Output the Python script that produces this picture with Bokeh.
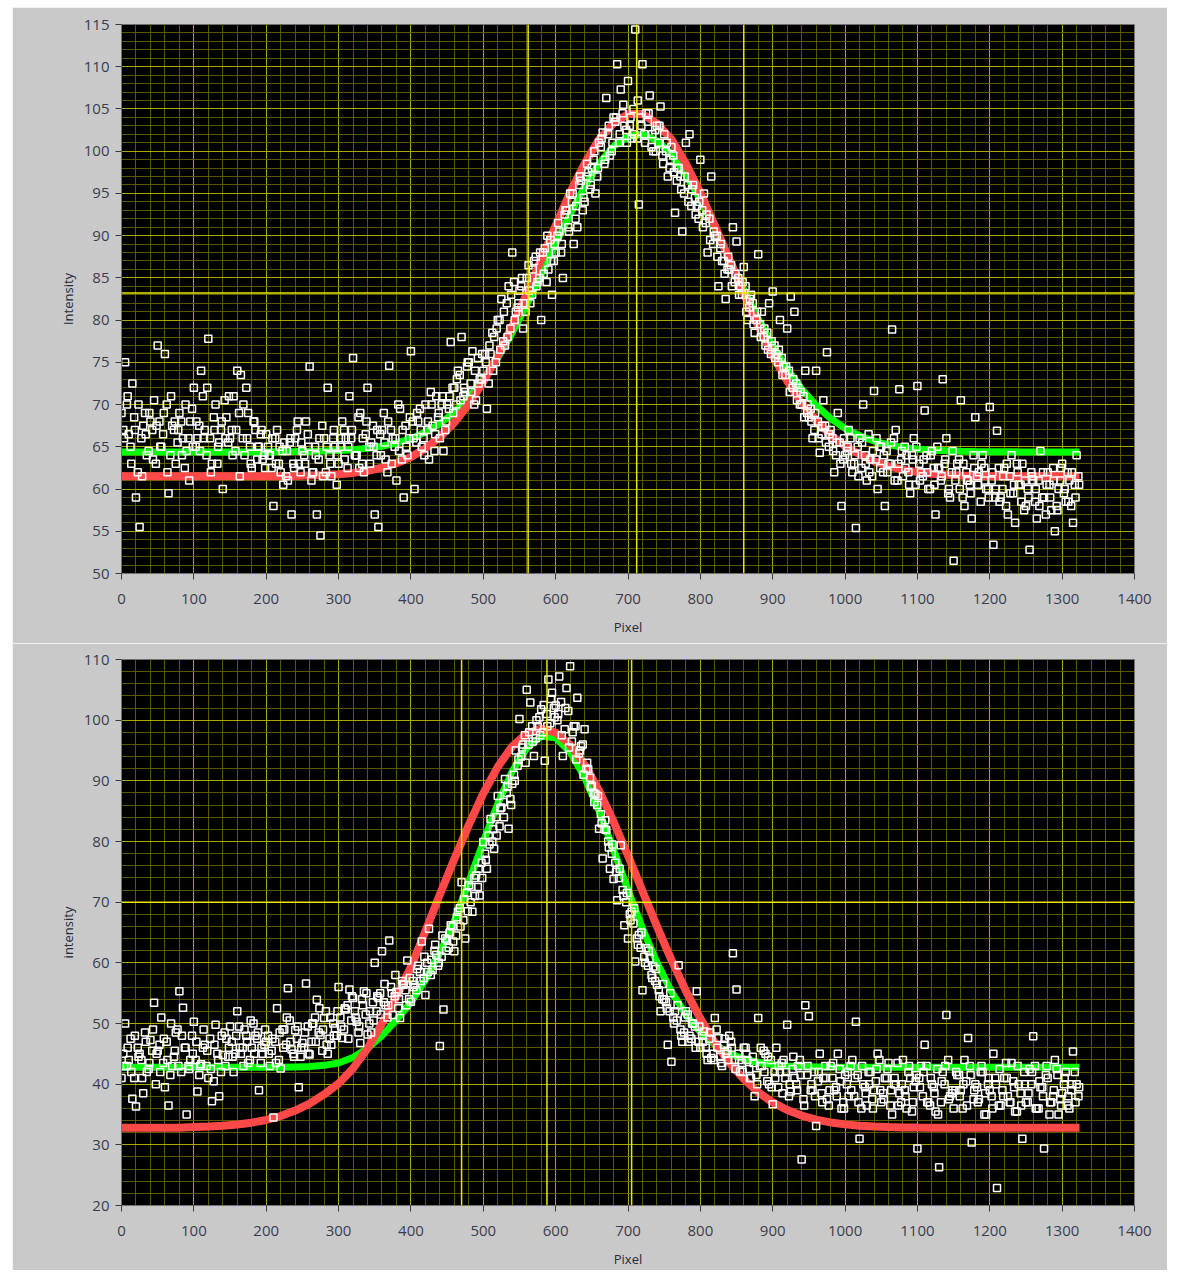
from bokeh.plotting import figure
from bokeh.models import Range1d, SingleIntervalTicker, Span, Spacer
from bokeh.layouts import column, row
from bokeh.embed import file_html
from bokeh.resources import INLINE

# ---------------- data: top panel ----------------
top_scatter_y = [
    69, 75, 66.5, 72.5, 59, 55.5, 67.5, 64, 68, 70.5,
    77, 65, 76, 59.5, 67.5, 63, 69, 66, 64.5, 68,
    72, 66, 74, 67, 77.8, 63, 70, 65.5, 60, 68.5,
    66, 71, 74, 73.5, 64, 69, 62.5, 67, 65, 63.5,
    66.5, 64, 58, 67, 62, 65.5, 61, 57, 66, 63,
    64.5, 68, 74.5, 62, 57, 54.5, 66, 72, 61.5, 65,
    63, 68, 66, 71, 75.5, 64, 69, 62, 72, 65.5,
    57, 55.5, 67, 63.5, 74.6, 66, 61, 69.5, 59, 64,
    76.3, 60, 68, 65, 70, 63.5, 67.5, 71, 66, 64.5,
    70, 77.4, 72, 74, 78, 71.5, 75, 76.3, 70.5, 73,
    74, 69.5, 76, 78, 80, 82.5, 77, 84, 88, 81,
    83.5, 79, 85, 82, 87, 84.5, 80, 88.5, 86, 83,
    88, 90.5, 85, 93, 95, 89, 91, 96.5, 94, 97.5,
    98, 95, 101, 102.2, 106.3, 99.5, 104, 110.3, 107.3, 103,
    108.3, 101.5, 114.4, 93.7, 110.3, 104.5, 106.6, 100, 103, 105.3,
    102, 97, 100.5, 92.7, 98, 90.5, 101, 102, 96, 93.5,
    99, 95, 88, 97, 90, 84, 87, 82.5, 86, 91,
    89.3, 84, 86.3, 80, 83, 78.5, 87.8, 81, 77, 82,
    83.4, 76, 80, 74.5, 79, 82.8, 81, 72, 70, 74,
    68.5, 66, 74, 64.3, 70.5, 76.2, 67, 62, 69, 58,
    64, 67, 62, 55.4, 66, 70, 61, 63.5, 71.6, 60,
    65, 58, 63, 78.9, 67, 71.8, 61.5, 64, 59.5, 66,
    72.2, 62, 69.3, 60, 64.5, 57, 62.5, 73, 66, 59,
    51.5, 63, 70.5, 58, 61, 56.5, 68.5, 62, 64, 60,
    69.7, 53.4, 66.9, 59, 62.5, 57, 64, 56, 60.5, 63,
    58, 52.8, 61, 56.5, 64.5, 59, 62, 57.5, 55, 60,
    63, 58.5, 61, 56, 64,
]
top_scatter_x = [5 * i for i in range(len(top_scatter_y))]

top_scatter2_y = [
    67, 70, 65, 68.5, 62, 66, 69, 64.5, 67, 63,
    68, 66.5, 70, 64, 67, 65.5, 68, 62.5, 66, 69.5,
    65, 67.5, 71, 64, 66, 68.5, 63, 67, 70.5, 65.5,
    67, 64.5, 69, 66, 72, 65, 68, 63.5, 66.5, 64,
    65, 62.5, 66, 63, 64.5, 61.5, 65.5, 63, 67, 62,
    64, 66.5, 61, 65, 63.5, 67.5, 62, 64, 66, 60.5,
    65, 67, 62.5, 66, 64, 68.5, 63, 66.5, 65, 67.5,
    64, 66.5, 69, 62, 67, 65, 70, 63.5, 67.5, 66,
    68, 65.5, 69.5, 66, 67, 71.5, 64.5, 68.5, 70, 67,
    69.5, 72, 70, 73.5, 71, 74.5, 72.5, 70, 75.5, 73,
    76, 72.5, 78.5, 75, 80, 77.5, 82, 79, 84.5, 81.5,
    84, 82, 86.5, 83, 87.5, 85, 88, 84.5, 89.5, 87,
    90, 88, 92.5, 91, 94, 92, 96, 93, 97, 95.5,
    99, 97, 100.5, 98.5, 102, 100, 103.5, 101, 104.5, 102.5,
    103, 105, 101.5, 104, 102, 103.5, 100.5, 102.5, 101, 99.5,
    100, 98, 99.5, 96.5, 97, 95, 96, 93.5, 94.5, 92,
    93, 91.5, 92, 89, 90, 88.5, 87, 86, 86.5, 84.5,
    85, 83, 84, 81.5, 82, 80, 79.5, 78, 78.5, 76,
    77, 75, 75.5, 73.5, 74, 72, 72.5, 70, 71, 69,
    69.5, 67, 68, 66.5, 67.5, 65, 66, 64, 65.5, 63.5,
    64.5, 66, 63, 65, 62.5, 64, 66.5, 61.5, 63.5, 65,
    62, 64.5, 63, 66, 61, 63.5, 65, 62, 64, 60.5,
    63, 61.5, 64, 60, 62.5, 65, 61, 63, 59.5, 62,
    61, 63.5, 59, 62, 60.5, 64, 61.5, 58.5, 62.5, 60,
    61, 59, 62.5, 60, 58, 61.5, 59.5, 63, 60.5, 57.5,
    60, 62, 58.5, 61, 59, 57, 60.5, 62.5, 58, 61,
    59.5, 62, 58, 60.5, 61.5,
]
top_scatter2_x = [2.5 + 5 * i for i in range(len(top_scatter2_y))]

top_scatter3_y = [
    66, 71, 63, 67, 70, 61.5, 66.5, 69, 63.5, 67.5,
    65, 69, 62, 71, 68, 67, 64, 70, 61, 65,
    68, 64.5, 66, 72, 62, 67, 65, 68, 66, 71,
    64, 67, 61.5, 70, 66, 63, 68, 65, 67, 62.5,
    64, 66, 63, 65, 60.5, 64.5, 66, 62.5, 68, 65.5,
    63, 65, 62, 64, 66, 61.5, 65, 63, 67, 64,
    66, 63.5, 65, 67, 64, 62.5, 66, 68, 63, 65,
    67, 64, 65.5, 68, 63, 66, 64.5, 67, 65, 68.5,
    66, 69, 67, 64, 68, 70, 66.5, 69, 71, 68,
    71, 69, 73, 70.5, 72, 75, 71.5, 74, 72.5, 76,
    75, 77, 74, 79, 76.5, 81, 78, 83, 80, 82,
    85, 81, 83.5, 86, 84, 88, 85.5, 90, 87, 89,
    91.5, 89, 93, 90.5, 95, 93.5, 97, 94.5, 98.5, 96,
    100, 98, 101.5, 99, 103, 101, 104, 102, 105.5, 101,
    104, 102, 106, 103, 101, 104.5, 102, 100, 103, 98.5,
    101, 99, 97.5, 98, 95.5, 97, 94, 95.5, 92.5, 94,
    91, 92.5, 89.5, 90.5, 87.5, 89, 85.5, 87.5, 84, 85.5,
    83, 84.5, 81, 82.5, 79.5, 81, 78, 79, 76.5, 77.5,
    75.5, 76.5, 73.5, 74.5, 71.5, 73, 70.5, 71.5, 68.5, 70,
    68, 69, 66, 67.5, 65.5, 66.5, 64.5, 65.5, 63, 66,
    65, 63, 64, 61.5, 65.5, 63, 62, 64.5, 66, 62.5,
    64, 62, 65.5, 61, 63, 64.5, 62.5, 60.5, 63.5, 65,
    61, 63.5, 62, 64, 60.5, 62.5, 61.5, 63.5, 60, 64.5,
    62, 60, 63, 61, 59.5, 62.5, 60.5, 63, 61, 59,
    62, 60, 58.5, 61.5, 63, 59.5, 60.5, 62, 58.5, 61,
    59, 61.5, 60, 58, 62, 60.5, 59, 61, 57.5, 62.5,
    60, 58.5, 62, 59, 60.5,
]
top_scatter3_x = [3.5 + 5 * i for i in range(len(top_scatter3_y))]

fit_x = list(range(0, 1321, 20)) + [1324]

top_red = [
    61.5, 61.5, 61.5, 61.5, 61.5, 61.5, 61.5, 61.5, 61.5, 61.5,
    61.5, 61.52, 61.55, 61.6, 61.65, 61.75, 61.91, 62.16, 62.52, 63.05,
    63.79, 64.8, 66.14, 67.89, 70.06, 72.7, 75.8, 79.3, 83.1, 87.2,
    91.2, 95.1, 98.5, 101.4, 103.3, 104.4, 104.4, 103.3, 101.4, 98.5,
    95.1, 91.2, 87.2, 83.1, 79.3, 75.8, 72.8, 70.2, 68.1, 66.4,
    65.1, 64.1, 63.3, 62.7, 62.3, 62.0, 61.8, 61.7, 61.6, 61.55,
    61.5, 61.5, 61.5, 61.5, 61.5, 61.5, 61.5, 61.5,
]
top_green = [
    64.4, 64.4, 64.4, 64.4, 64.4, 64.4, 64.4, 64.4, 64.4, 64.4,
    64.4, 64.42, 64.43, 64.45, 64.49, 64.55, 64.66, 64.82, 65.07, 65.44,
    65.97, 66.72, 67.74, 69.09, 70.82, 72.97, 75.54, 78.51, 81.83, 85.38,
    89.03, 92.56, 95.8, 98.54, 100.56, 101.73, 102.0, 101.25, 99.63, 97.24,
    94.24, 90.82, 87.2, 83.59, 80.14, 76.98, 74.2, 71.84, 69.91, 68.37,
    67.19, 66.32, 65.68, 65.23, 64.93, 64.73, 64.6, 64.52, 64.47, 64.44,
    64.42, 64.41, 64.4, 64.4, 64.4, 64.4, 64.4, 64.4,
]
top_cursor_x = [562, 712, 860]
top_cursor_y = [83.2]

# ---------------- data: bottom panel ----------------
bot_scatter_y = [
    41, 50, 44, 37.6, 36.3, 45, 38.5, 42, 47.3, 53.4,
    45.5, 51, 39.5, 36.5, 43, 48.5, 55.3, 52.6, 35, 44,
    50.3, 38.8, 43.3, 46.5, 41, 37.2, 49.8, 38, 44.8, 47.5,
    49.5, 42, 52, 45, 49, 43.5, 46, 48, 39, 45,
    47, 43, 34.5, 52.5, 42.6, 49, 55.8, 45.7, 48.9, 39.5,
    46.8, 56.6, 44.9, 50, 53.9, 48.1, 50.9, 45, 46.5, 49.2,
    56, 47.6, 52.3, 55.6, 54.2, 50.3, 46.8, 55.3, 48.2, 48.5,
    60, 54.2, 61.9, 53, 63.7, 51.4, 55.2, 50.9, 56.4, 60.4,
    53.6, 56.4, 59.5, 63.5, 54.7, 65.6, 58.8, 61.3, 46.3, 52.3,
    63.7, 66.2, 61.9, 68.4, 73.3, 64, 72.8, 68.4, 74.4, 71.1,
    79.9, 75.5, 83.7, 78.8, 87.5, 85.6, 90.3, 82.1, 89.5, 95,
    100.2, 96, 105, 102.9, 94.1, 99, 101.8, 93.3, 106.7, 104.5,
    102.4, 107.2, 94.1, 105.3, 108.9, 99, 103.7, 95.7, 98.5, 91.9,
    89.2, 87.8, 82.1, 77.2, 81.9, 75.5, 73.8, 70.3, 79.4, 66.2,
    64, 68.4, 60.2, 64.6, 55.5, 62.4, 60.7, 59.4, 56.4, 52,
    54, 46.5, 43.7, 52, 59.6, 47, 52, 48, 50, 55.3,
    46, 48.7, 44, 44.3, 50.9, 47.6, 43, 45, 48, 61.6,
    55.6, 42.1, 46, 44, 41, 38, 50.9, 43, 45, 40,
    36.7, 46, 42, 44, 49.8, 38.8, 41, 43, 27.6, 53,
    51.2, 39, 33.1, 45, 41, 37.5, 43, 39, 45, 36,
    41.5, 38, 44, 50.3, 31, 40, 36.5, 42, 39, 45,
    37, 41, 43.5, 35, 40, 38.5, 44, 36, 41, 39.5,
    29.4, 43, 46.5, 37, 40, 35.5, 26.3, 42, 51.4, 38,
    36, 41.5, 39, 44, 47.6, 30.4, 40, 37.5, 42, 35,
    39, 45, 22.9, 36.5, 41, 38, 43.5, 35.5, 40, 31,
    37, 42.5, 47.9, 36, 39.5, 29.4, 41, 37, 44, 35,
    38.5, 42, 36, 45.4, 40,
]
bot_scatter_x = [5 * i for i in range(len(bot_scatter_y))]

bot_scatter2_y = [
    45, 43, 47.5, 41, 46, 44, 48.5, 42.5, 45.5, 40,
    46.5, 43.5, 47, 41.5, 44.5, 49, 42, 46, 43, 48,
    44, 41.5, 46, 43, 47.5, 40.5, 45, 42, 48.5, 44.5,
    47, 45, 49.5, 46, 48, 44, 50, 47.5, 43.5, 46.5,
    48, 45.5, 47, 44, 49, 46.5, 50.5, 45, 47.5, 44.5,
    46, 49.5, 47, 51, 48.5, 45.5, 52, 47.5, 50, 48,
    51, 49, 53, 50.5, 52, 48.5, 54, 51.5, 50, 53.5,
    52, 55, 53.5, 51, 56, 54.5, 52.5, 57, 55.5, 54,
    57, 55.5, 58.5, 57.5, 60, 58, 62, 59.5, 61, 64,
    62.5, 66, 64.5, 69, 67, 71.5, 70, 74, 72.5, 76.5,
    78, 81, 80, 84, 82.5, 86.5, 88, 87, 91, 92.5,
    94, 97.5, 96, 99, 97, 100.5, 98, 101, 99.5, 102,
    100, 103, 98.5, 101.5, 96.5, 99, 94.5, 96, 92, 90.5,
    88, 86, 84.5, 82, 80, 78, 76.5, 74, 72, 70,
    68, 66.5, 64, 62.5, 61, 59.5, 58, 57, 55.5, 54,
    53.5, 52, 51, 50.5, 49, 48.5, 51.5, 47.5, 49.5, 47,
    48, 46, 47.5, 45, 49, 44.5, 46.5, 45.5, 47, 44,
    45, 43.5, 46, 42.5, 44.5, 41.5, 43, 45.5, 40.5, 44,
    42, 39.5, 43.5, 41, 38, 42.5, 40, 44, 37.5, 41.5,
    39, 42, 40.5, 38.5, 43, 36.5, 41, 39.5, 42.5, 37,
    40, 43, 38, 41.5, 36, 39.5, 42, 37.5, 40.5, 44,
    38.5, 41, 36.5, 40, 43.5, 37, 39, 42, 35.5, 40.5,
    41, 38, 43, 36.5, 39.5, 42.5, 37, 40, 44, 38.5,
    39, 41.5, 36, 40.5, 43, 37.5, 39.5, 42, 35, 40,
    38, 41, 36.5, 39, 43.5, 37, 40.5, 35.5, 38.5, 42,
    37, 40, 43, 36, 39.5, 41.5, 35, 38, 42.5, 37.5,
    40, 36.5, 39, 42, 38,
]
bot_scatter2_x = [2.5 + 5 * i for i in range(len(bot_scatter2_y))]

bot_scatter3_y = [
    43, 46, 42, 48, 44.5, 41, 47, 43.5, 49, 45,
    42, 47.5, 44, 50, 45.5, 43, 48, 46, 42.5, 45,
    47, 43, 49, 45.5, 42.5, 46.5, 44, 48, 43, 46,
    44.5, 48, 46, 43, 47, 50.5, 45, 48.5, 46, 49,
    45, 47.5, 43.5, 48.5, 46, 51, 47, 44.5, 49.5, 46,
    48.5, 45, 50, 47, 52.5, 49, 46.5, 51, 48, 52,
    49.5, 52.5, 47.5, 54.5, 51, 49.5, 53, 55, 52, 50.5,
    54.5, 51.5, 56.5, 53, 55, 58, 54, 56.5, 53, 57.5,
    56, 59, 57, 61, 58.5, 60.5, 63, 60, 64.5, 62,
    65, 63.5, 67.5, 66, 70.5, 68.5, 72.5, 71, 75.5, 74,
    77, 79.5, 82, 81, 85.5, 84, 89, 86, 90, 93.5,
    95.5, 93, 98, 96.5, 100, 97.5, 102.5, 99, 103.5, 100.5,
    101, 97.5, 102, 95.5, 98, 93.5, 95, 91, 93, 89,
    86.5, 87.5, 83, 83.5, 79, 79.5, 75, 75.5, 71, 71.5,
    67, 69, 63, 65, 60, 62, 57.5, 59, 54.5, 56.5,
    52.5, 55, 50, 53, 48, 51, 47, 50, 46, 49.5,
    47, 45, 48.5, 44, 46, 43.5, 47.5, 44, 46, 42.5,
    44, 42, 45, 41, 43.5, 40, 46, 42, 44.5, 39.5,
    41, 43, 38.5, 42, 40, 44.5, 39, 41.5, 36.5, 43,
    40, 38, 42, 37, 41, 39, 43.5, 38, 40.5, 36,
    42, 39, 41, 37, 43, 38.5, 40, 36, 42.5, 39,
    37.5, 42.5, 39, 41, 36.5, 40, 38, 43, 37, 41.5,
    39.5, 42, 37, 41, 38.5, 35, 40.5, 43, 37.5, 39,
    42, 38, 40, 36.5, 41.5, 39, 37, 43, 38.5, 41,
    36, 40, 42.5, 38, 41, 37, 39.5, 43, 36.5, 40,
    38.5, 42, 36, 40.5, 38, 43, 37, 39, 41.5, 36.5,
    41, 38, 40, 37, 39.5,
]
bot_scatter3_x = [3.5 + 5 * i for i in range(len(bot_scatter3_y))]

bot_red = [
    32.8, 32.8, 32.8, 32.8, 32.8, 32.93, 33.01, 33.14, 33.35, 33.65,
    34.1, 34.74, 35.64, 36.8, 38.3, 40.1, 42.6, 45.9, 50.0, 54.4,
    59.3, 65.2, 71.25, 77.1, 82.74, 87.91, 92.3, 95.68, 97.81, 98.6,
    97.96, 95.95, 92.69, 88.39, 83.29, 77.68, 71.83, 66.02, 60.48, 55.37,
    50.8, 46.85, 43.54, 40.83, 38.67, 37.0, 35.75, 34.82, 34.16, 33.69,
    33.37, 33.16, 33.02, 32.93, 32.87, 32.84, 32.82, 32.81, 32.8, 32.8,
    32.8, 32.8, 32.8, 32.8, 32.8, 32.8, 32.8, 32.8,
]
bot_green = [
    42.8, 42.8, 42.8, 42.8, 42.8, 42.8, 42.8, 42.8, 42.8, 42.8,
    42.8, 42.8, 42.85, 42.9, 43.1, 43.5, 44.4, 45.9, 48.0, 50.6,
    53.5, 57.2, 61.6, 66.9, 73.33, 79.94, 86.22, 91.55, 95.4, 97.33,
    97.11, 94.77, 90.58, 85.01, 78.63, 72.02, 65.69, 60.03, 55.26, 51.46,
    48.58, 46.51, 45.09, 44.15, 43.57, 43.22, 43.0, 42.9, 42.85, 42.82,
    42.8, 42.8, 42.8, 42.8, 42.8, 42.8, 42.8, 42.8, 42.8, 42.8,
    42.8, 42.8, 42.8, 42.8, 42.8, 42.8, 42.8, 42.8,
]
bot_cursor_x = [470, 588, 705]
bot_cursor_y = [70]

FONT = "Open Sans"


def make_panel(height, border_top, border_bottom, y0, y1, y_step, ylabel,
               scatter_sets, red, green, cx, cy):
    p = figure(width=1155, height=height,
               x_range=Range1d(0, 1400), y_range=Range1d(y0, y1),
               output_backend="svg", toolbar_location=None,
               min_border_left=109, min_border_right=33,
               min_border_top=border_top, min_border_bottom=border_bottom)
    p.background_fill_color = "black"
    p.border_fill_color = "#c9c9c9"
    p.outline_line_color = "#707070"

    xt = SingleIntervalTicker(interval=100, num_minor_ticks=5)
    yt = SingleIntervalTicker(interval=y_step, num_minor_ticks=5)
    p.xaxis.ticker = xt
    p.yaxis.ticker = yt
    p.xgrid.ticker = xt
    p.ygrid.ticker = yt
    for g in (p.xgrid, p.ygrid):
        g.grid_line_color = "#a8a800"
        g.grid_line_width = 1
        g.minor_grid_line_color = "#5a5a00"
        g.minor_grid_line_width = 1

    for ax in (p.xaxis, p.yaxis):
        ax.axis_line_color = "#707070"
        ax.major_tick_in = 0
        ax.major_tick_out = 6
        ax.major_tick_line_color = "#3a3a3a"
        ax.minor_tick_line_color = None
        ax.major_label_text_font = FONT
        ax.major_label_text_font_size = "15px"
        ax.major_label_text_color = "#3a3d50"
        ax.axis_label_text_font = FONT
        ax.axis_label_text_font_size = "13px"
        ax.axis_label_text_font_style = "normal"
        ax.axis_label_text_color = "#2a2a3a"
    p.xaxis.major_label_standoff = 14
    p.yaxis.major_label_standoff = 6
    p.xaxis.axis_label = "Pixel"
    p.xaxis.axis_label_standoff = 11
    p.yaxis.axis_label = ylabel
    p.yaxis.axis_label_standoff = 4

    p.line(fit_x, green, line_color="#00ff00", line_width=7)
    p.line(fit_x, red, line_color="#ff4848", line_width=8)
    for sx, sy in scatter_sets:
        p.scatter(sx, sy, marker="square", size=7, fill_color=None,
                  line_color="white", line_width=1.5)

    for v in cx:
        p.add_layout(Span(location=v, dimension="height",
                          line_color="#e8e800", line_width=1.5))
    for v in cy:
        p.add_layout(Span(location=v, dimension="width",
                          line_color="#e8e800", line_width=1.5))
    return p


p1 = make_panel(636, 17, 70, 50, 115, 5, "Intensity",
                [(top_scatter_x, top_scatter_y),
                 (top_scatter2_x, top_scatter2_y),
                 (top_scatter3_x, top_scatter3_y)],
                top_red, top_green, top_cursor_x, top_cursor_y)
p2 = make_panel(627, 16, 63, 20, 110, 10, "intensity",
                [(bot_scatter_x, bot_scatter_y),
                 (bot_scatter2_x, bot_scatter2_y),
                 (bot_scatter3_x, bot_scatter3_y)],
                bot_red, bot_green, bot_cursor_x, bot_cursor_y)

layout = column(Spacer(height=7),
                row(Spacer(width=12), p1),
                row(Spacer(width=12), p2))

open("out.html", "w").write(file_html(layout, INLINE))
